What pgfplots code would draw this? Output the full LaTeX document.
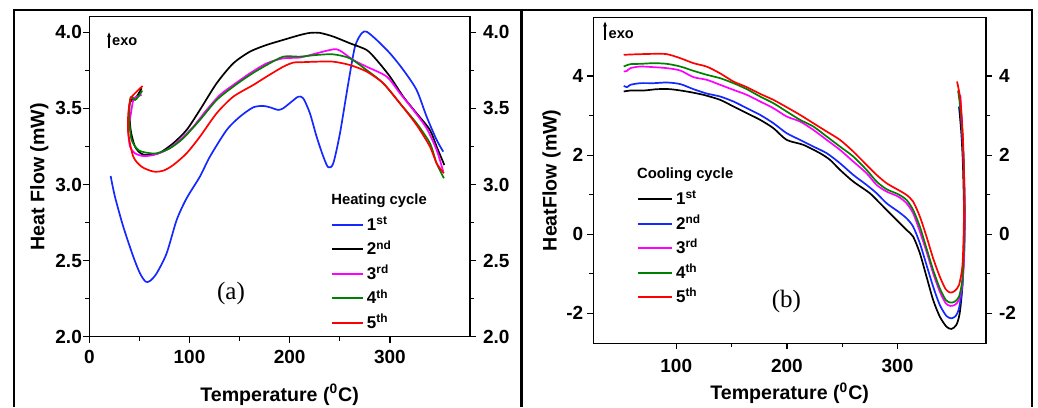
\documentclass[border=0pt]{standalone}
\usepackage{pgfplots}
\pgfplotsset{compat=1.18}
\usetikzlibrary{arrows.meta}
\usepackage{fontspec}
\setmainfont{Liberation Sans}
\newfontfamily\serifab{Liberation Serif}

\definecolor{cblue}{RGB}{20,40,255}
\definecolor{cmag}{RGB}{255,0,255}
\definecolor{cgreen}{RGB}{0,128,0}
\definecolor{cred}{RGB}{255,0,0}

\pgfplotsset{
  common/.style={
    scale only axis, anchor=south west,
    tick align=outside,
    major tick length=3pt, minor tick length=2pt,
    axis line style={line width=0.7pt},
    every tick/.style={line width=0.7pt, black},
    tick label style={font=\fontsize{9.5}{10}\selectfont\bfseries},
    label style={font=\fontsize{9.8}{11}\selectfont\bfseries},
    minor x tick num=1, minor y tick num=1,
    clip=false,
  },
  curve/.style={line width=0.85pt, smooth, tension=0.45},
}

\begin{document}
\begin{tikzpicture}
\useasboundingbox (0,0) rectangle (519pt,203.5pt);
% outer frame
\draw[line width=1pt] (7pt,0) -- (7pt,198.6pt) -- (516pt,198.6pt) -- (516pt,0);
\draw[line width=1.3pt] (260.6pt,0) -- (260.6pt,198.6pt);

%================ panel (a)
\begin{axis}[common,
  at={(44.65pt,35.15pt)}, width=190.35pt, height=160pt,
  xmin=0, xmax=380, ymin=2, ymax=4.1025,
  xtick={0,100,200,300}, xticklabels={0,100,200,300},
  ytick={2,2.5,3,3.5,4}, yticklabels={2.0,2.5,3.0,3.5,4.0},
  xtick pos=left, ytick pos=left,
  yticklabel style={xshift=2.8pt},
  xlabel={Temperature (\textsuperscript{0}C)},
  ylabel={Heat Flow (mW)},
  xlabel style={at={(axis description cs:0.5,-0.181)}, anchor=center},
  ylabel style={at={(axis description cs:-0.131,0.5)}, anchor=center},
  legend style={at={(axis cs:241.2,2.786)}, anchor=north west, draw=none, fill=none,
    inner sep=0pt, row sep=4.25pt, column sep=1.5pt,
    font=\fontsize{8.5}{9}\selectfont\bfseries,
    nodes={inner sep=0pt, text height=6.5pt, text depth=1.5pt}},
  legend cell align=left,
  legend image code/.code={\draw[#1, line width=1pt] (0pt,0.25pt) -- (15.3pt,0.25pt);},
]
\addplot[curve, cblue] coordinates {
(21.3,3.056)(25.6,2.92)(33.9,2.723)(43.9,2.526)(50.6,2.416)(56.2,2.362)(60.5,2.366)
(67.2,2.416)(77.2,2.548)(87.2,2.767)(97.1,2.909)(110.4,3.052)(120.4,3.183)(137.1,3.358)
(150.4,3.446)(163.7,3.507)(173.7,3.516)(180.3,3.507)(188.6,3.49)(193.6,3.501)(201.9,3.544)
(208.6,3.577)(213.6,3.566)(220.2,3.468)(226.9,3.314)(233.6,3.183)(238.5,3.113)(243.5,3.139)
(250.2,3.336)(258.5,3.665)(265.2,3.906)(271.8,3.993)(276.8,4.004)(286.8,3.95)(300.1,3.862)
(313.4,3.753)(326.7,3.621)(336.7,3.446)(346.7,3.293)(353.3,3.216)};
\addlegendentry{1\textsuperscript{st}}
\addplot[curve, black] coordinates {
(52.2,3.632)(47.2,3.577)(42.2,3.555)(39.9,3.512)(41.3,3.358)(45.6,3.249)(52.2,3.201)
(60.5,3.194)(70.5,3.209)(83.8,3.271)(97.1,3.358)(110.4,3.49)(127.1,3.665)(143.7,3.796)
(160.4,3.873)(177.0,3.917)(193.6,3.95)(210.2,3.982)(220.2,3.996)(230.2,3.996)(243.5,3.972)
(260.1,3.928)(276.8,3.884)(286.8,3.818)(300.1,3.709)(313.4,3.577)(326.7,3.468)(340.0,3.358)
(346.7,3.249)(354.4,3.128)};
\addlegendentry{2\textsuperscript{nd}}
\addplot[curve, cmag] coordinates {
(52.2,3.588)(47.2,3.577)(43.9,3.555)(41.3,3.457)(38.9,3.358)(40.6,3.249)(45.6,3.205)
(54.0,3.187)(64.0,3.194)(77.2,3.227)(90.5,3.293)(103.8,3.38)(117.1,3.49)(130.4,3.588)
(143.7,3.654)(160.4,3.731)(177.0,3.796)(193.6,3.829)(210.2,3.834)(226.9,3.862)(243.5,3.888)
(250.2,3.88)(263.5,3.818)(276.8,3.774)(296.8,3.709)(310.1,3.599)(323.4,3.49)(336.7,3.369)
(346.7,3.227)(353.3,3.085)};
\addlegendentry{3\textsuperscript{rd}}
\addplot[curve, cgreen] coordinates {
(52.9,3.617)(48.9,3.577)(45.6,3.555)(42.2,3.577)(40.6,3.555)(39.9,3.424)(42.2,3.293)
(48.9,3.227)(57.2,3.209)(67.2,3.205)(80.5,3.238)(93.8,3.304)(110.4,3.424)(127.1,3.555)
(143.7,3.643)(160.4,3.72)(177.0,3.785)(193.6,3.84)(210.2,3.84)(226.9,3.851)(243.5,3.855)
(260.1,3.829)(276.8,3.752)(293.4,3.665)(310.1,3.533)(326.7,3.402)(340.0,3.271)(346.7,3.139)
(354.0,3.041)};
\addlegendentry{4\textsuperscript{th}}
\addplot[curve, cred] coordinates {
(53.2,3.647)(48.9,3.621)(43.9,3.588)(41.3,3.566)(38.9,3.468)(38.9,3.336)(43.9,3.183)
(52.2,3.117)(64.0,3.085)(73.9,3.091)(83.8,3.128)(97.1,3.205)(110.4,3.314)(127.1,3.468)
(143.7,3.577)(163.7,3.654)(177.0,3.709)(193.6,3.774)(203.6,3.801)(210.2,3.803)(226.9,3.807)
(243.5,3.807)(260.1,3.785)(276.8,3.742)(293.4,3.665)(310.1,3.533)(326.7,3.391)(340.0,3.249)
(346.7,3.139)(354.0,3.074)};
\addlegendentry{5\textsuperscript{th}}
\node[anchor=west, font=\fontsize{7.4}{8}\selectfont\bfseries, inner sep=0pt] at (axis cs:241.2,2.894) {Heating cycle};
\node[font=\fontsize{12.5}{13}\selectfont\serifab] at (axis cs:141.4,2.287) {(a)};
\draw[-{Stealth[length=2.5pt,width=2pt]}, line width=0.6pt] (axis cs:19.7,3.895) -- (axis cs:19.7,4.0);
\node[anchor=west, inner sep=0pt, font=\fontsize{7.3}{8}\selectfont\bfseries] at (axis cs:22.5,3.936) {exo};
\end{axis}
\begin{axis}[common,
  at={(44.65pt,35.15pt)}, width=190.35pt, height=160pt,
  xmin=0, xmax=380, ymin=2, ymax=4.1025,
  hide x axis, axis y line*=right,
  ytick={2,2.5,3,3.5,4}, yticklabels={2.0,2.5,3.0,3.5,4.0},
]
\end{axis}

%================ panel (b)
\begin{axis}[common,
  at={(296.65pt,31.85pt)}, width=196.35pt, height=163pt,
  xmin=25, xmax=380, ymin=-2.76, ymax=5.49,
  xtick={100,200,300}, xticklabels={100,200,300},
  ytick={-2,0,2,4}, yticklabels={-2,0,2,4},
  xtick pos=left, ytick pos=left,
  yticklabel style={xshift=1.5pt},
  xticklabel style={yshift=-1.2pt},
  xlabel={Temperature (\textsuperscript{0}C)},
  ylabel={HeatFlow (mW)},
  xlabel style={at={(axis description cs:0.5,-0.153)}, anchor=center},
  ylabel style={at={(axis description cs:-0.106,0.5)}, anchor=center},
  legend style={at={(axis cs:64.2,1.089)}, anchor=north west, draw=none, fill=none,
    inner sep=0pt, row sep=4.25pt, column sep=1.5pt,
    font=\fontsize{8.5}{9}\selectfont\bfseries,
    nodes={inner sep=0pt, text height=6.5pt, text depth=1.5pt}},
  legend cell align=left,
  legend image code/.code={\draw[#1, line width=1pt] (0pt,0.25pt) -- (17pt,0.25pt);},
]
\addplot[curve, black] coordinates {
(355.6,3.232)(357.7,2.557)(359.2,1.713)(360.2,0.447)(359.8,-0.397)(358.6,-1.325)(356.2,-2.0)
(353.2,-2.295)(348.7,-2.397)(344.2,-2.338)(338.2,-2.084)(332.2,-1.662)(326.2,-1.072)
(320.2,-0.481)(314.1,-0.059)(308.1,0.11)(302.1,0.278)(293.1,0.532)(284.1,0.785)(275.0,1.038)
(260.0,1.333)(248.0,1.629)(239.0,1.882)(229.9,2.051)(214.9,2.262)(199.8,2.388)(187.8,2.684)
(175.8,2.895)(163.8,3.063)(151.7,3.232)(139.7,3.401)(124.7,3.527)(109.6,3.612)(94.6,3.671)
(82.6,3.671)(70.5,3.637)(58.5,3.637)(52.5,3.612)};
\addlegendentry{1\textsuperscript{st}}
\addplot[curve, cblue] coordinates {
(356.2,3.333)(358.3,2.557)(359.8,1.713)(360.7,0.532)(360.1,-0.481)(358.6,-1.325)(355.6,-1.873)
(352.6,-2.068)(348.7,-2.127)(344.2,-2.068)(338.2,-1.789)(332.2,-1.325)(326.2,-0.776)
(320.2,-0.228)(314.1,0.194)(308.1,0.405)(300.6,0.574)(290.1,0.785)(281.1,1.038)(272.0,1.249)
(260.0,1.502)(248.0,1.797)(236.0,2.051)(223.9,2.219)(211.9,2.388)(199.8,2.557)(187.8,2.81)
(175.8,3.021)(163.8,3.19)(151.7,3.359)(139.7,3.485)(127.7,3.56)(115.6,3.671)(103.6,3.80)
(91.6,3.84)(79.6,3.823)(67.5,3.823)(58.5,3.781)(55.5,3.722)(52.5,3.755)};
\addlegendentry{2\textsuperscript{nd}}
\addplot[curve, cmag] coordinates {
(356.8,3.527)(358.6,2.557)(360.1,1.544)(361.0,0.447)(360.4,-0.481)(358.6,-1.241)(355.6,-1.662)
(351.7,-1.789)(347.8,-1.814)(343.6,-1.747)(338.2,-1.451)(332.2,-0.987)(326.2,-0.439)
(320.2,0.068)(314.1,0.532)(308.1,0.785)(300.6,0.954)(290.1,1.08)(281.1,1.249)(272.0,1.544)
(260.0,1.84)(248.0,2.135)(236.0,2.388)(223.9,2.641)(211.9,2.852)(199.8,2.979)(187.8,3.19)
(175.8,3.359)(163.8,3.527)(151.7,3.654)(139.7,3.781)(127.7,3.907)(115.6,3.975)(103.6,4.143)
(91.6,4.203)(79.6,4.228)(67.5,4.245)(58.5,4.203)(55.5,4.135)(52.5,4.118)};
\addlegendentry{3\textsuperscript{rd}}
\addplot[curve, cgreen] coordinates {
(354.7,3.637)(357.7,2.979)(359.8,1.882)(360.7,0.7)(360.1,-0.312)(358.6,-1.156)(355.6,-1.578)
(351.7,-1.705)(347.8,-1.73)(343.6,-1.662)(338.2,-1.367)(332.2,-0.903)(326.2,-0.354)
(320.2,0.194)(314.1,0.616)(308.1,0.869)(300.6,1.013)(290.1,1.139)(281.1,1.333)(272.0,1.629)
(260.0,1.966)(248.0,2.219)(236.0,2.473)(223.9,2.726)(211.9,2.895)(199.8,3.105)(187.8,3.316)
(175.8,3.485)(163.8,3.671)(151.7,3.823)(139.7,3.949)(127.7,4.034)(115.6,4.135)(103.6,4.245)
(91.6,4.312)(79.6,4.329)(67.5,4.312)(58.5,4.304)(52.5,4.245)};
\addlegendentry{4\textsuperscript{th}}
\addplot[curve, cred] coordinates {
(353.8,3.865)(356.8,3.401)(359.2,2.388)(360.2,1.207)(359.8,0.025)(358.6,-0.819)(355.6,-1.283)
(351.7,-1.435)(347.8,-1.477)(343.6,-1.392)(338.2,-1.072)(332.2,-0.608)(326.2,-0.059)
(320.2,0.447)(314.1,0.827)(308.1,0.996)(300.6,1.122)(290.1,1.291)(281.1,1.502)(272.0,1.755)
(260.0,2.093)(248.0,2.388)(236.0,2.599)(223.9,2.81)(211.9,3.021)(199.8,3.215)(187.8,3.401)
(175.8,3.553)(163.8,3.722)(151.7,3.865)(139.7,4.07)(127.7,4.24)(115.6,4.329)(103.6,4.456)
(91.6,4.557)(79.6,4.565)(67.5,4.557)(58.5,4.549)(52.5,4.540)};
\addlegendentry{5\textsuperscript{th}}
\node[anchor=west, font=\fontsize{7.4}{8}\selectfont\bfseries, inner sep=0pt] at (axis cs:64.2,1.519) {Cooling cycle};
\node[font=\fontsize{12.5}{13}\selectfont\serifab] at (axis cs:199.5,-1.706) {(b)};
\draw[-{Stealth[length=2.5pt,width=2pt]}, line width=0.6pt] (axis cs:35.6,4.92) -- (axis cs:35.6,5.38);
\node[anchor=west, inner sep=0pt, font=\fontsize{7.3}{8}\selectfont\bfseries] at (axis cs:38.5,5.06) {exo};
\end{axis}
\begin{axis}[common,
  at={(296.65pt,31.85pt)}, width=196.35pt, height=163pt,
  xmin=25, xmax=380, ymin=-2.76, ymax=5.49,
  hide x axis, axis y line*=right,
  ytick={-2,0,2,4}, yticklabels={-2,0,2,4},
]
\end{axis}
\end{tikzpicture}
\end{document}
